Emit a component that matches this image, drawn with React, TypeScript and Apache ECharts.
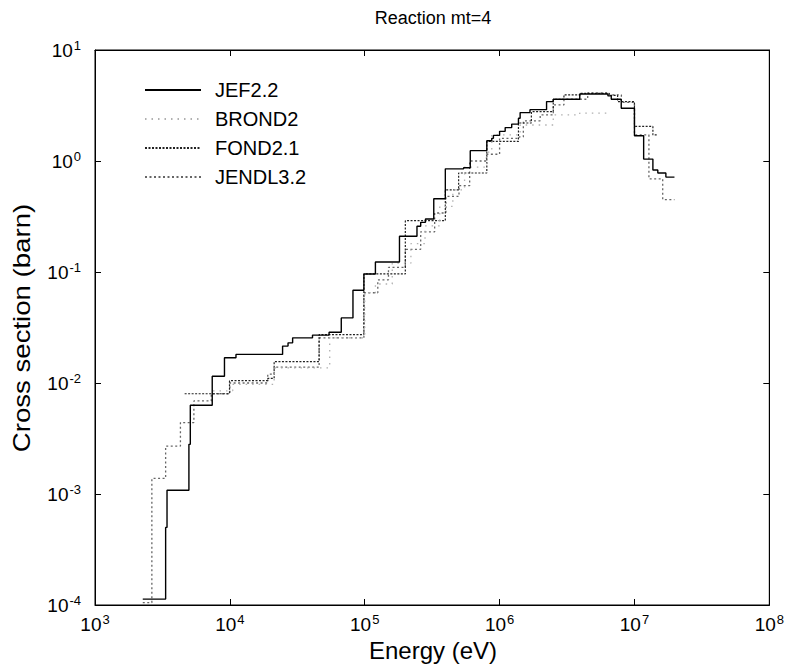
import React, { useEffect, useRef } from "react";
import * as echarts from "echarts";

const titleText = "Reaction mt=4";
const xName = "Energy (eV)";
const yName = "Cross section (barn)";
const seriesNames = ["JEF2.2", "BROND2", "FOND2.1", "JENDL3.2"];

const jef22: number[][] = [
  [2.26e3, 1.13e-4], [3.34e3, 5.0e-4], [3.42e3, 1.08e-3], [4.97e3, 2.8e-3], [5.09e3, 6.3e-3],
  [7.4e3, 1.15e-2], [9.12e3, 1.69e-2], [1.11e4, 1.81e-2], [2.46e4, 2.15e-2], [2.7e4, 2.3e-2],
  [2.92e4, 2.55e-2], [4.1e4, 2.7e-2], [5.44e4, 2.87e-2], [6.7e4, 3.86e-2], [8.18e4, 6.84e-2],
  [9.86e4, 9.6e-2], [1.2e5, 1.23e-1], [1.81e5, 2.1e-1], [2.44e5, 2.58e-1], [2.6e5, 2.8e-1],
  [2.82e5, 3.0e-1], [3.25e5, 4.57e-1], [3.96e5, 8.5e-1], [5.41e5, 8.7e-1], [6.06e5, 1.24],
  [8.04e5, 1.52], [8.75e5, 1.6], [9.0e5, 1.7], [1.0e6, 1.85], [1.1e6, 2.0], [1.23e6, 2.15],
  [1.38e6, 2.43], [1.42e6, 2.73], [1.68e6, 2.9], [2.23e6, 3.43], [2.5e6, 3.6], [3.93e6, 4.02],
  [6.36e6, 3.86], [6.73e6, 3.6], [7.98e6, 2.99], [1.0e7, 1.69], [1.17e7, 1.04], [1.37e7, 0.83],
  [1.49e7, 0.78], [1.71e7, 0.716], [1.98e7, 0.716],
];

const brond2: number[][] = [
  [7.5e3, 8.5e-3], [1.05e4, 9.7e-3], [2.13e4, 1.37e-2], [5.5e4, 2.55e-2], [1.0e5, 6.5e-2],
  [1.2e5, 7.8e-2], [1.6e5, 1.2e-1], [2.2e5, 1.8e-1], [2.8e5, 2.6e-1], [3.6e5, 3.9e-1],
  [4.5e5, 5.5e-1], [5.5e5, 8.8e-1], [8.04e5, 1.2], [8.75e5, 1.72], [1.42e6, 2.11], [2.5e6, 2.6],
  [3.93e6, 2.7], [6.36e6, 2.7],
];

const fond21: number[][] = [
  [4.62e3, 8.0e-3], [9.94e3, 1.05e-2], [1.91e4, 1.1e-2], [2.13e4, 1.56e-2], [4.59e4, 2.73e-2],
  [9.86e4, 9.6e-2], [2.0e5, 2.9e-1], [3.96e5, 5.5e-1], [4.97e5, 7.8e-1], [8.04e5, 1.5],
  [1.38e6, 2.2], [1.72e6, 2.78], [2.5e6, 3.6], [3.0e6, 3.95], [4.0e6, 4.07], [6.5e6, 3.9],
  [7.5e6, 3.43], [1.0e7, 2.05], [1.37e7, 1.72], [1.49e7, 1.72],
];

const jendl32: number[][] = [
  [2.26e3, 1.05e-4], [2.64e3, 1.38e-3], [3.34e3, 2.7e-3], [4.3e3, 4.4e-3], [5.41e3, 6.9e-3],
  [7.28e3, 8.0e-3], [1.0e4, 1.0e-2], [1.91e4, 1.2e-2], [2.13e4, 1.39e-2], [4.59e4, 2.55e-2],
  [9.86e4, 6.5e-2], [1.25e5, 8.5e-2], [1.5e5, 1.1e-1], [2.0e5, 1.6e-1], [2.6e5, 2.3e-1],
  [3.3e5, 3.4e-1], [4.0e5, 4.8e-1], [5.0e5, 6.0e-1], [6.0e5, 1.0], [8.0e5, 1.15], [1.0e6, 1.6],
  [1.4e6, 1.65], [1.5e6, 2.3], [2.0e6, 2.6], [2.5e6, 3.2], [3.0e6, 3.6], [4.5e6, 4.1],
  [6.5e6, 3.95], [8.0e6, 3.37], [1.0e7, 1.72], [1.28e7, 0.69], [1.62e7, 0.448], [1.98e7, 0.448],
];

const FONT = "'Liberation Sans', Arial, Helvetica, sans-serif";

const GRID = { left: 95, top: 50, right: 15, bottom: 61 };

function supLabel(v: number) {
  const e = Math.round(Math.log10(v));
  return "{b|10}{s|" + e + "}";
}

const richLabel = {
  b: { fontSize: 19, fontFamily: FONT, color: "#000", lineHeight: 22 },
  s: { fontSize: 13, fontFamily: FONT, color: "#000", verticalAlign: "top", lineHeight: 12, padding: [0, 0, 0, 1] },
};

export default function App() {
  const ref = useRef<HTMLDivElement>(null);
  useEffect(() => {
    document.body.style.margin = "0";
    if (!ref.current) return;
    const chart = echarts.init(ref.current, null, { renderer: "svg" });
    const axisLine = { show: true, onZero: false, lineStyle: { color: "#000", width: 1 } };
    const tick = { show: true, inside: true, length: 6, lineStyle: { color: "#000" } };
    const lineStyles = [
      { color: "#000", width: 1.4, type: "solid" },
      { color: "#b0b0b0", width: 1.3, type: [1.5, 5] },
      { color: "#222", width: 1.2, type: [2, 1.5] },
      { color: "#666", width: 1.3, type: [2, 2.5] },
    ];
    const datas = [jef22, brond2, fond21, jendl32];
    chart.setOption({
      animation: false,
      backgroundColor: "#fff",
      grid: { ...GRID, show: true, borderColor: "#000", borderWidth: 1, containLabel: false },
      legend: {
        orient: "vertical",
        left: 139,
        top: 74,
        itemWidth: 56,
        itemHeight: 20,
        itemGap: 7,
        data: seriesNames,
        itemStyle: { opacity: 0 },
        textStyle: { fontSize: 20, fontFamily: FONT, color: "#000", lineHeight: 22, padding: [0, 0, 0, 9] },
      },
      xAxis: [
        {
          type: "log",
          logBase: 10,
          min: 1e3,
          max: 1e8,
          axisLine,
          axisTick: tick,
          splitLine: { show: false },
          minorTick: { show: false },
          axisLabel: { formatter: supLabel, rich: richLabel, margin: 8 },
        },
        {
          type: "log",
          logBase: 10,
          min: 1e3,
          max: 1e8,
          position: "top",
          axisLine,
          axisTick: tick,
          splitLine: { show: false },
          axisLabel: { show: false },
        },
      ],
      yAxis: [
        {
          type: "log",
          logBase: 10,
          min: 1e-4,
          max: 10,
          axisLine,
          axisTick: tick,
          splitLine: { show: false },
          axisLabel: { formatter: supLabel, rich: richLabel, margin: 14 },
        },
        {
          type: "log",
          logBase: 10,
          min: 1e-4,
          max: 10,
          position: "right",
          axisLine,
          axisTick: tick,
          splitLine: { show: false },
          axisLabel: { show: false },
        },
      ],
      graphic: [
        {
          type: "text",
          x: 433,
          y: 18,
          style: { text: titleText, fontSize: 18, fontFamily: FONT, fill: "#000", textAlign: "center", textVerticalAlign: "middle" },
        },
        {
          type: "text",
          x: 433,
          y: 650,
          style: { text: xName, fontSize: 24, fontFamily: FONT, fill: "#000", textAlign: "center", textVerticalAlign: "middle" },
        },
        {
          type: "text",
          x: 22,
          y: 328,
          rotation: Math.PI / 2,
          scaleX: 1.2,
          style: { text: yName, fontSize: 23, fontFamily: FONT, fill: "#000", textAlign: "center", textVerticalAlign: "middle" },
        },
      ],
      series: datas.map((d, i) => ({
        name: seriesNames[i],
        type: "line",
        step: "end",
        symbol: "none",
        showSymbol: false,
        data: d,
        lineStyle: lineStyles[i],
        itemStyle: { color: lineStyles[i].color },
        xAxisIndex: 0,
        yAxisIndex: 0,
        z: 10 - i,
      })),
    });
    return () => chart.dispose();
  }, []);
  return <div ref={ref} style={{ width: 787, height: 666 }} />;
}
